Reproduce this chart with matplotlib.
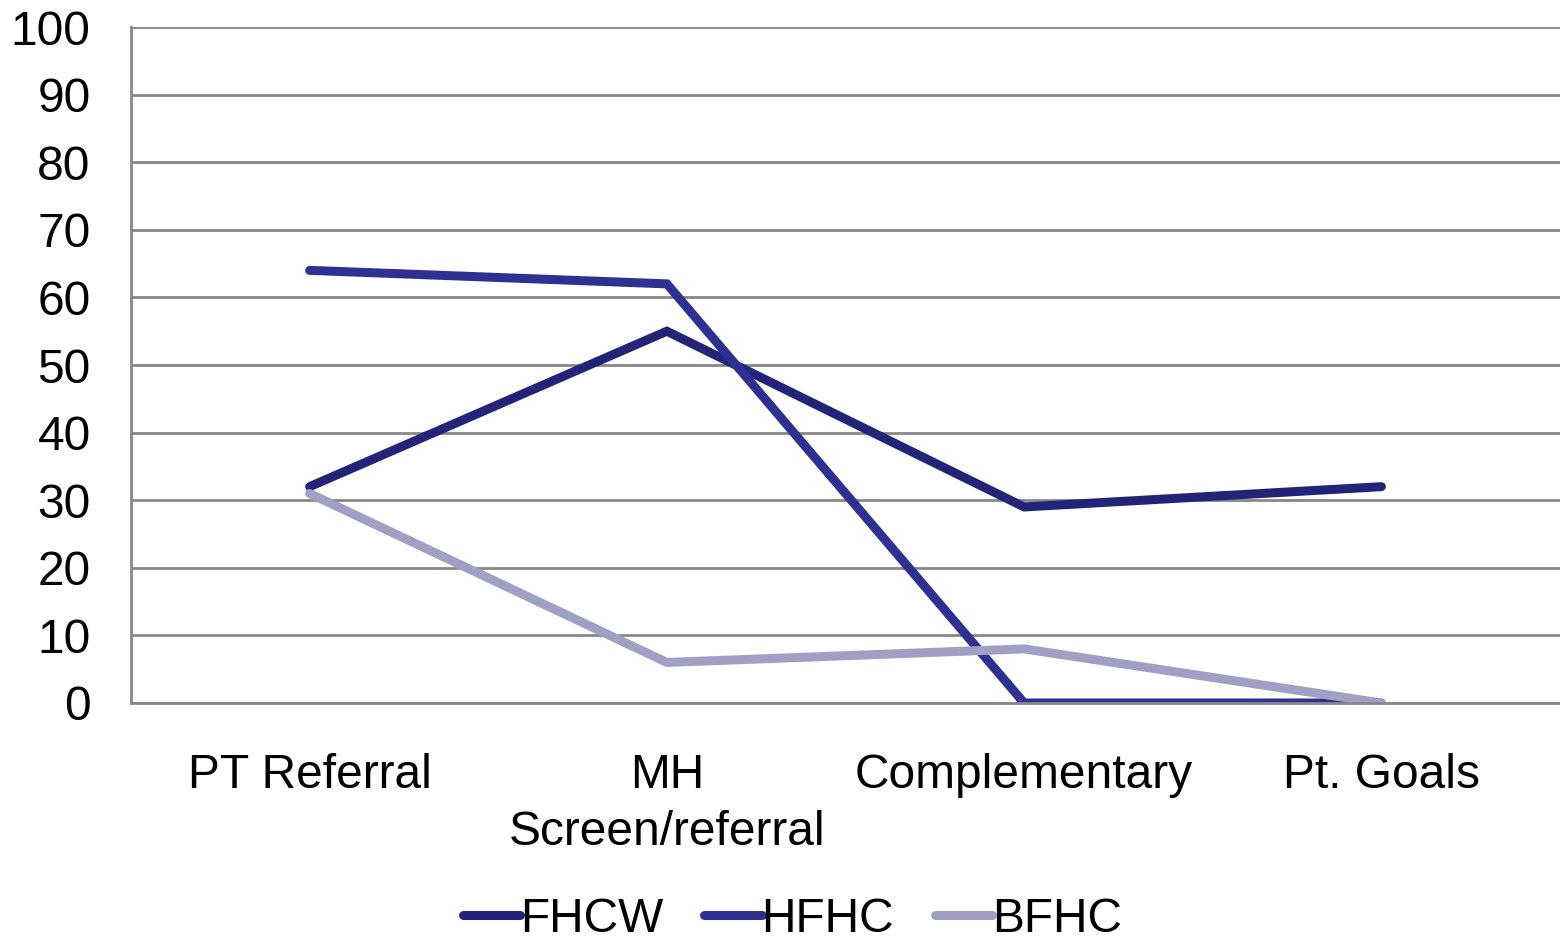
import matplotlib.pyplot as plt
import numpy as np

plt.rcParams['font.family'] = ['Liberation Sans', 'DejaVu Sans']

categories = ['PT Referral', 'MH\nScreen/referral', 'Complementary', 'Pt. Goals']
fhcw = [32, 55, 29, 32]
hfhc = [64, 62, 0, 0]
bfhc = [31, 6, 8, 0]

series = [('FHCW', fhcw, '#232378'), ('HFHC', hfhc, '#2e3192'), ('BFHC', bfhc, '#a0a0c4')]

fig = plt.figure(figsize=(15.6, 9.41), dpi=100)
ax = fig.add_axes([131 / 1560, 1 - 703 / 941, (1560 - 131) / 1560, (703 - 27) / 941])

x = np.arange(len(categories))
for name, vals, col in series:
    ax.plot(x, vals, color=col, lw=6.5, solid_capstyle='round', solid_joinstyle='miter', label=name)

ax.set_xlim(-0.5, 3.5)
ax.set_ylim(0, 100)
ax.set_yticks(range(0, 101, 10))
ax.yaxis.grid(True, color='#888888', lw=2)
ax.set_axisbelow(True)
ax.set_xticks(x)
ax.set_xticklabels(categories, fontsize=34.5, linespacing=1.35)
ax.tick_params(axis='y', labelsize=34.5, length=0, pad=29)
ax.tick_params(axis='x', length=0, pad=36)
for s in ['top', 'right']:
    ax.spines[s].set_visible(False)
ax.spines['left'].set_color('#888888')
ax.spines['left'].set_linewidth(2)
ax.spines['bottom'].set_color('#888888')
ax.spines['bottom'].set_linewidth(2)

fig.legend(loc='lower center', bbox_to_anchor=(0.508, -0.047), ncol=3, fontsize=34.5, frameon=False,
           handlelength=1.2, handletextpad=0.0, columnspacing=0.85)

fig.savefig('out.png', dpi=100)
